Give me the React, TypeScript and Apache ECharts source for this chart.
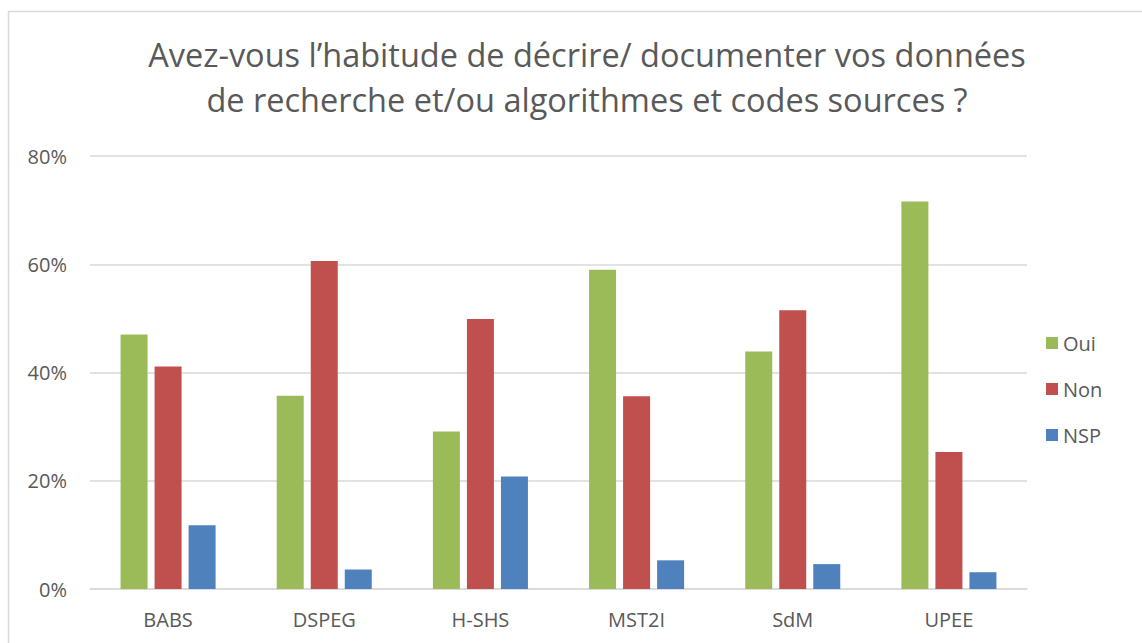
import React, { useEffect, useRef } from "react";
import * as echarts from "echarts";

const titleLines = [
  "Avez-vous l’habitude de décrire/ documenter vos données",
  "de recherche et/ou algorithmes et codes sources ?",
];
const categories = ["BABS", "DSPEG", "H-SHS", "MST2I", "SdM", "UPEE"];
const oui = [47.0, 35.7, 29.1, 59.0, 43.9, 71.6];
const non = [41.1, 60.6, 49.9, 35.6, 51.5, 25.3];
const nsp = [11.8, 3.6, 20.8, 5.3, 4.6, 3.1];
const seriesNames = ["Oui", "Non", "NSP"];
const colors = ["#9BBB59", "#C0504D", "#4F81BD"];

const FONT = "'Open Sans', 'Noto Sans', sans-serif";

export default function App() {
  const ref = useRef<HTMLDivElement>(null);
  useEffect(() => {
    if (!ref.current) return;
    const chart = echarts.init(ref.current, undefined, { renderer: "svg" });
    const data = [oui, non, nsp];
    chart.setOption({
      animation: false,
      backgroundColor: "#ffffff",
      textStyle: { fontFamily: FONT },
      title: {
        text: titleLines.join("\n"),
        left: 582,
        textAlign: "center",
        top: 27,
        textStyle: {
          fontFamily: FONT,
          fontSize: 32.5,
          fontWeight: "normal",
          color: "#595959",
          lineHeight: 45,
        },
      },
      legend: {
        orient: "vertical",
        left: 1041,
        top: 328,
        itemWidth: 12,
        itemHeight: 12,
        itemGap: 26,
        icon: "rect",
        textStyle: { fontFamily: FONT, fontSize: 20, color: "#595959" },
        data: seriesNames,
      },
      graphic: [
        {
          type: "rect",
          shape: { x: 8.5, y: 11.5, width: 1300, height: 800 },
          style: { fill: "none", stroke: "#d9d9d9", lineWidth: 1.5 },
          silent: true,
        },
      ],
      grid: { left: 90, right: 115, top: 156, bottom: 54, containLabel: false },
      xAxis: {
        type: "category",
        data: categories,
        axisLine: { show: true, lineStyle: { color: "#d9d9d9", width: 1.5 } },
        axisTick: { show: false },
        axisLabel: { color: "#595959", fontSize: 20, fontFamily: FONT, margin: 20 },
      },
      yAxis: {
        type: "value",
        min: 0,
        max: 80,
        interval: 20,
        axisLine: { show: false },
        axisTick: { show: false },
        splitLine: { lineStyle: { color: "#d9d9d9", width: 1.5 } },
        axisLabel: {
          color: "#595959",
          fontSize: 20,
          fontFamily: FONT,
          margin: 23,
          formatter: (v: number) => `${v}%`,
        },
      },
      series: seriesNames.map((name, i) => ({
        name,
        type: "bar",
        data: data[i],
        barWidth: 27,
        barGap: "26%",
        itemStyle: { color: colors[i] },
      })),
    });
    return () => chart.dispose();
  }, []);
  return (
    <div
      ref={ref}
      style={{ position: "fixed", left: 0, top: 0, width: 1142, height: 643 }}
    />
  );
}
